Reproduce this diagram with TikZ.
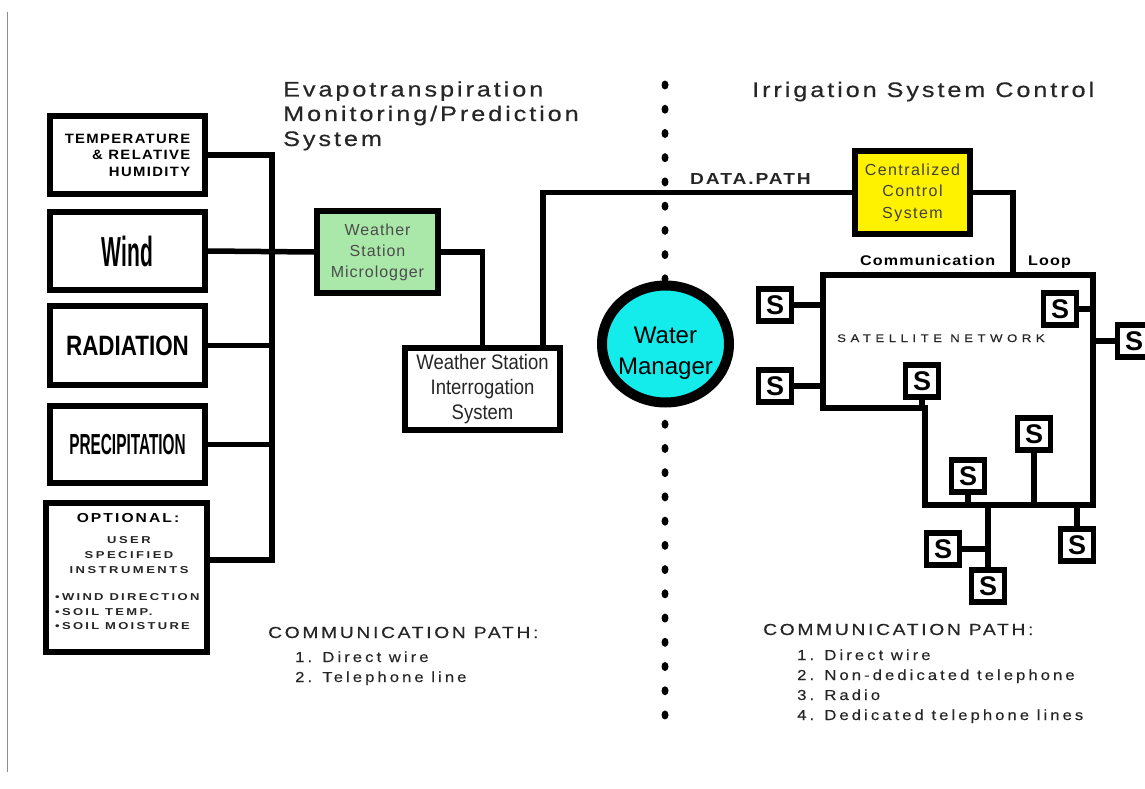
\documentclass[tikz,border=0pt]{standalone}
\usepackage{fontspec}
\setmainfont{Liberation Sans}
\usepackage{graphicx}
\usetikzlibrary{shapes.geometric}
\definecolor{mloggreen}{RGB}{170,232,170}
\definecolor{wmcyan}{RGB}{20,236,236}
\newcommand{\fs}[2]{\fontsize{#1}{#2}\selectfont}
\newcommand{\trk}[2]{\addfontfeature{LetterSpace=#1,FakeStretch=#2}}

\begin{document}
\begin{tikzpicture}[x=1pt,y=-1pt,line join=miter,
		blk/.style={draw,line width=6pt,inner sep=0pt,fill=white},
		wire/.style={line width=5.5pt},
		sbox/.style={draw,line width=5.5pt,fill=white,minimum width=33pt,minimum height=32pt,inner sep=0pt,font=\fs{27}{27}\bfseries},
		lbl/.style={inner sep=0pt,text=black!85},
		title/.style={lbl,anchor=base west,font=\fs{21}{21}\trk{14}{1.2}\addfontfeature{FakeBold=0.5}},
		list/.style={lbl,anchor=base west,font=\fs{14.5}{14.5}\trk{21}{1.15}\addfontfeature{FakeBold=0.3}}]
	\useasboundingbox (0,0) rectangle (1145,789);
	\draw[black!45,line width=1pt] (7,12) -- (7,772);
	% titles
	\node[title] (et1) at (283,96.5) {Evapotranspiration};
	\node[title] (et2) at (283,121) {Monitoring/Prediction};
	\node[title] (et3) at (283,146) {System};
	\node[title] (isc) at (752,97) {Irrigation System Control};
	% instruments
	\node[blk,minimum width=155pt,minimum height=78pt,align=right,font=\fs{13.5}{16.5}\bfseries\trk{10}{1.1}] (temp) at (127.5,155) {TEMPERATURE\\\& RELATIVE\\HUMIDITY};
	\node[blk,minimum width=155pt,minimum height=78pt,font=\fs{42}{42}\bfseries] (wind) at (127.5,251) {\scalebox{.5}[1]{Wind}};
	\node[blk,minimum width=155pt,minimum height=79pt,font=\fs{28}{28}\bfseries] (rad) at (127.5,345.5) {\scalebox{.8}[1]{RADIATION}};
	\node[blk,minimum width=155pt,minimum height=77pt,font=\fs{29}{29}\bfseries] (prec) at (127.5,444.5) {\scalebox{.53}[1]{PRECIPITATION}};
	\node[blk,minimum width=161pt,minimum height=149pt] (opt) at (126.5,577.5) {};
	\node[lbl,text=black,anchor=base,font=\fs{13}{13}\bfseries\trk{16}{1.2}] (optA) at (128,522) {OPTIONAL:};
	\foreach \t [count=\i] in {USER,SPECIFIED,INSTRUMENTS}
		\node[lbl,anchor=base,font=\fs{10}{10}\bfseries\trk{25}{1.3}] (optU\i) at (129,{528+15*\i}) {\t};
	\foreach \t [count=\i] in {•WIND DIRECTION,•SOIL TEMP.,•SOIL MOISTURE}
		\node[lbl,anchor=base west,font=\fs{10}{10}\bfseries\trk{23}{1.3}] (optL\i) at (55,{586+14.5*\i}) {\t};
	% weather station
	\node[blk,fill=mloggreen,minimum width=121pt,minimum height=82pt,align=center,text=black!70,font=\fs{16}{21}\trk{6}{1}] (mlog) at (377.5,252) {Weather\\Station\\Micrologger};
	\node[blk,minimum width=155pt,minimum height=82pt,text=black!85,font=\fs{21}{25}] (wsis) at (482.5,389) {\raisebox{-4pt}{\scalebox{.88}[1]{\begin{tabular}{@{}c@{}}Weather Station\\Interrogation\\System\end{tabular}}}};
	\coordinate (bustop) at (272,155);
	\coordinate (busbot) at (272,560);
	\draw[wire] (temp.east) -- (bustop) -- (busbot) -- ([yshift=17.5pt]opt.east);
	\draw[wire] (wind.east) -- (mlog.west);
	\draw[wire] (rad.east) -- (rad.east -| bustop);
	\draw[wire] (prec.east) -- (prec.east -| bustop);
	\draw[wire] (mlog.east) -| (wsis.north);
	% divider
	\foreach \k in {0,...,26}
		\fill (665,{85+24.23*\k}) ellipse (3.5 and 4.5);
	\node[draw,ellipse,line width=10pt,fill=wmcyan,minimum width=127pt,minimum height=117pt,inner sep=0pt] (wm) at (665.5,344) {};
	\node[lbl,text=black,align=center,font=\fs{24}{31}] (wmlbl) at (665.5,353) {Water\\Manager};
	% irrigation control
	\node[blk,fill=yellow,minimum width=115pt,minimum height=83pt,align=center,text=black!75,font=\fs{16}{21.5}\trk{9}{1}] (ccs) at (912.5,192.5) {Centralized\\Control\\System};
	\draw[wire] ([xshift=60.5pt]wsis.north) |- (ccs.west);
	\node[lbl,anchor=base west,font=\fs{16}{16}\bfseries\trk{12}{1.2}] (dpath) at (690,184) {DATA.PATH};
	\coordinate (net1) at (823,275);
	\coordinate (net2) at (1093,275);
	\coordinate (net3) at (1093,505);
	\coordinate (net4) at (925,505);
	\coordinate (net5) at (925,408);
	\coordinate (net6) at (823,408);
	\coordinate (cloop) at (1013,275);
	\draw[wire] (ccs.east) -| (cloop);
	\draw[wire] (net1) -- (net2) -- (net3) -- (net4) -- (net5) -- (net6) -- cycle;
	\node[lbl,text=black,anchor=base west,font=\fs{14}{14}\bfseries\trk{8}{1.15}] (comm) at (860,265) {Communication};
	\node[lbl,text=black,anchor=base west,font=\fs{14}{14}\bfseries\trk{8}{1.15}] (loop) at (1028,265) {Loop};
	\node[lbl,anchor=base west,font=\fs{11}{11}\trk{41}{1.2}\addfontfeature{FakeBold=0.3}] (satnet) at (837,342) {SATELLITE NETWORK};
	% satellites
	\node[sbox] (s1) at (775,305) {S};
	\node[sbox] (s2) at (775,386) {S};
	\node[sbox] (s3) at (1060,309) {S};
	\node[sbox] (s4) at (1134,341) {S};
	\node[sbox] (s5) at (922,381) {S};
	\node[sbox] (s6) at (968,476) {S};
	\node[sbox] (s7) at (1034,434) {S};
	\node[sbox] (s8) at (988,586) {S};
	\node[sbox] (s9) at (943,549) {S};
	\node[sbox] (s10) at (1077,545) {S};
	\draw[wire] (s1.east) -- (s1.east -| net1);
	\draw[wire] (s2.east) -- (s2.east -| net1);
	\draw[wire] (s3.east) -- (s3.east -| net2);
	\draw[wire] (s4.west) -- (s4.west -| net2);
	\draw[wire] (s5.south) -- (s5.south |- net5);
	\draw[wire] (s6.south) -- (s6.south |- net4);
	\draw[wire] (s7.south) -- (s7.south |- net4);
	\draw[wire] (s8.north) -- (s8.north |- net4);
	\draw[wire] (s9.east) -- (s9.east -| s8.north);
	\draw[wire] (s10.north) -- (s10.north |- net3);
	% communication paths
	\node[lbl,anchor=base west,font=\fs{16}{16}\trk{17}{1.2}\addfontfeature{FakeBold=0.3}] (cpl) at (268,638) {COMMUNICATION PATH:};
	\foreach \t [count=\i] in {1. Direct wire,2. Telephone line}
		\node[list] (cpl\i) at (295,{642+20*\i}) {\t};
	\node[lbl,anchor=base west,font=\fs{16}{16}\trk{17}{1.2}\addfontfeature{FakeBold=0.3}] (cpr) at (763,635) {COMMUNICATION PATH:};
	\foreach \t [count=\i] in {1. Direct wire,2. Non-dedicated telephone,3. Radio,4. Dedicated telephone lines}
		\node[list] (cpr\i) at (797,{640+20*\i}) {\t};
\end{tikzpicture}
\end{document}
